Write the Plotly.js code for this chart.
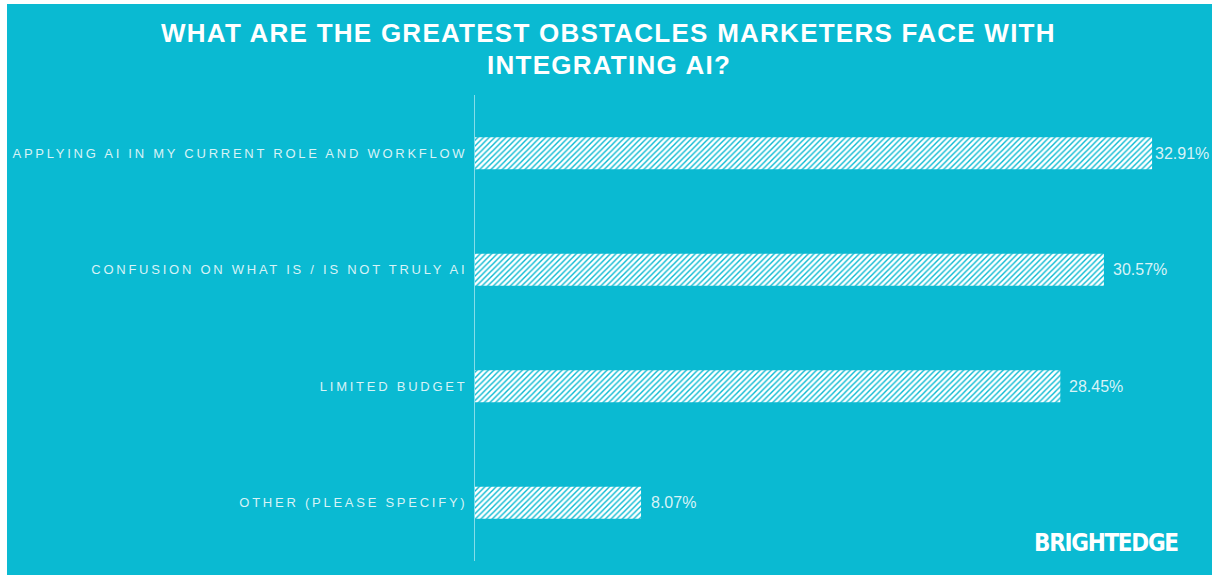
<!DOCTYPE html>
<html>
<head>
<meta charset="utf-8">
<script src="https://cdn.plot.ly/plotly-3.0.1.min.js"></script>
<style>
  html, body { margin: 0; padding: 0; background: #ffffff; overflow: hidden; }
  #chart { position: absolute; left: 7px; top: 4px; width: 1205px; height: 571px; }
  .ytick text { letter-spacing: 2.75px; }
</style>
</head>
<body>
<div id="chart"></div>
<script>
const categories = [
  "APPLYING AI IN MY CURRENT ROLE AND WORKFLOW",
  "CONFUSION ON WHAT IS / IS NOT TRULY AI",
  "LIMITED BUDGET",
  "OTHER (PLEASE SPECIFY)"
];
const values = [32.91, 30.57, 28.45, 8.07];
const valueLabels = ["32.91%", "30.57%", "28.45%", "8.07%"];
const titleLines = ["WHAT ARE THE GREATEST OBSTACLES MARKETERS FACE WITH", "INTEGRATING AI?"];
const brand = "BRIGHTEDGE";

const teal = "#0ABAD2";
const light = "rgba(255,255,255,0.85)";

const trace = {
  type: "bar",
  orientation: "h",
  y: categories,
  x: values,
  marker: {
    color: "#ffffff",
    line: { width: 0 },
    pattern: { shape: "/", fgcolor: teal, bgcolor: "#ffffff", size: 4, solidity: 0.35 }
  },
  hoverinfo: "skip"
};

const titleFont = { family: "Liberation Sans, Arial, sans-serif", size: 26, color: "#ffffff", weight: "bold" };
const titleY = [1.133, 1.064];

const annotations = titleLines.map((t, i) => ({
  text: '<span style="letter-spacing:1.25px">' + t + '</span>',
  xref: "paper", yref: "paper",
  x: 0.1845, y: titleY[i],
  xanchor: "center", yanchor: "middle",
  showarrow: false,
  font: titleFont
}));

// value labels, placed at each bar's end through the axes
const labelShift = [1, 7, 7, 8];
categories.forEach((c, i) => {
  annotations.push({
    text: valueLabels[i],
    xref: "x", yref: "y",
    x: values[i], y: c,
    xanchor: "left", yanchor: "middle",
    xshift: labelShift[i],
    showarrow: false,
    font: { family: "Liberation Sans, Arial, sans-serif", size: 16, color: light }
  });
});

annotations.push({
  text: '<span style="letter-spacing:-1.3px">' + brand + '</span>',
  xref: "paper", yref: "paper",
  x: 0.870, y: 0.0386,
  xanchor: "center", yanchor: "middle",
  showarrow: false,
  font: { family: "Liberation Sans Narrow, Arial Narrow, DejaVu Sans Condensed, sans-serif", size: 24, color: "#ffffff", weight: "bold" }
});

const layout = {
  width: 1205,
  height: 571,
  paper_bgcolor: teal,
  plot_bgcolor: teal,
  margin: { l: 468, r: 12, t: 91, b: 14 },
  bargap: 0.725,
  showlegend: false,
  xaxis: {
    range: [0, 35.24],
    showgrid: false, zeroline: false, showline: false,
    showticklabels: false, ticks: "", fixedrange: true
  },
  yaxis: {
    autorange: "reversed",
    showgrid: false, zeroline: false,
    showline: true, linecolor: "rgba(255,255,255,0.5)", linewidth: 1,
    ticks: "", ticklabelstandoff: 4,
    tickfont: { family: "Liberation Sans, Arial, sans-serif", size: 13, color: light },
    fixedrange: true
  },
  annotations: annotations
};

Plotly.newPlot("chart", [trace], layout, { displayModeBar: false, staticPlot: true });
</script>
</body>
</html>
